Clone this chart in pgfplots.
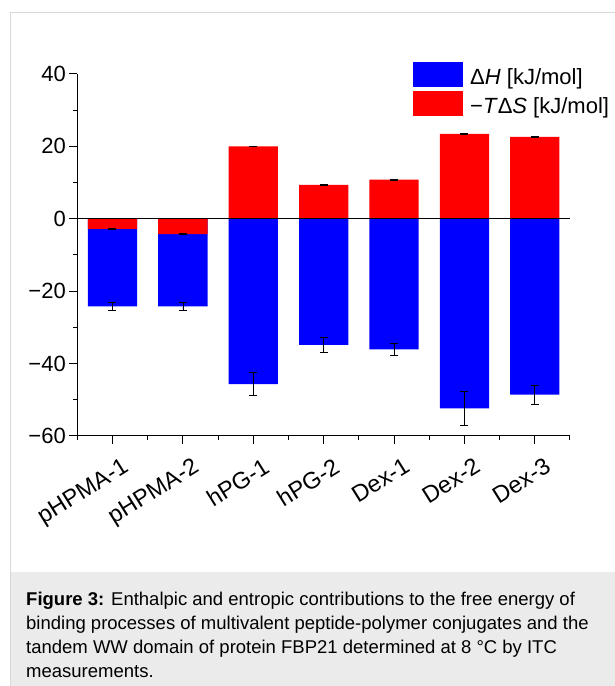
\documentclass[border=0pt]{standalone}
\usepackage{fontspec}
\setmainfont{Liberation Sans}
\usepackage{pgfplots}
\pgfplotsset{compat=1.18}
\definecolor{barblue}{RGB}{0,0,255}
\definecolor{barred}{RGB}{255,0,0}
\definecolor{framegray}{RGB}{216,216,216}
\definecolor{capgray}{RGB}{235,235,235}

\begin{document}
\begin{tikzpicture}[x=1pt,y=1pt]
\path[use as bounding box] (0,0) rectangle (615,686);
\fill[white] (0,0) rectangle (615,686);
\fill[capgray] (10.8,0) rectangle (615,114.3);
\draw[framegray, line width=1.2pt] (10.3,0) -- (10.3,673.7) -- (615,673.7);
\begin{scope}[every node/.style={anchor=base west, inner sep=0pt, font=\fontsize{18.5}{22}\selectfont}]
\node at (26,80.5) {\textbf{Figure 3:} Enthalpic and entropic contributions to the free energy of};
\node at (26,56.5) {binding processes of multivalent peptide-polymer conjugates and the};
\node at (26,32.5) {tandem WW domain of protein FBP21 determined at 8 °C by ITC};
\node at (26,8.5) {measurements.};
\end{scope}
\begin{axis}[
  at={(77.3pt,250pt)}, anchor=south west,
  scale only axis, width=492.7pt, height=362pt,
  xmin=-0.5, xmax=6.5, ymin=-60, ymax=40,
  axis lines*=left,
  axis line style={black, line width=1pt},
  ybar, bar width=0.7, bar shift=0pt,
  xtick={0,1,2,3,4,5,6},
  xticklabels={pHPMA-1,pHPMA-2,hPG-1,hPG-2,Dex-1,Dex-2,Dex-3},
  minor xtick={-0.5,0.5,1.5,2.5,3.5,4.5,5.5,6.5},
  ytick={-60,-40,-20,0,20,40},
  yticklabels={−60,−40,−20,0,20,40},
  minor ytick={-50,-30,-10,10,30},
  tick align=outside,
  major tick length=8pt, minor tick length=4.5pt,
  tick style={black, line width=1pt},
  yticklabel style={font=\fontsize{22}{26}\selectfont},
  xticklabel style={font=\fontsize{23.5}{27}\selectfont, rotate=32, anchor=north east, xshift=4pt, yshift=-12pt},
  legend style={at={(0.6813,1.034)}, anchor=north west, draw=none, fill=none,
    inner sep=0pt, row sep=3pt, font=\fontsize{22}{26}\selectfont,
    /tikz/every odd column/.append style={column sep=5pt}},
  legend cell align=left,
]
\addplot[fill=barblue, draw=none,
  legend image code/.code={\fill[barblue] (0pt,-9.5pt) rectangle (50pt,15.5pt);},
  error bars/.cd, y dir=both, y explicit,
  error bar style={draw=black, line width=0.7pt},
  error mark options={draw=black, rotate=90, mark size=4pt, line width=0.7pt}]
coordinates {
(0,-24.2) +- (0,1.05)
(1,-24.2) +- (0,1.15)
(2,-45.7) +- (0,3.15)
(3,-34.85) +- (0,2.1)
(4,-36.05) +- (0,1.75)
(5,-52.4) +- (0,4.6)
(6,-48.6) +- (0,2.55)
};
\addlegendentry{Δ\textit{H} [kJ/mol]}
\addplot[fill=barred, draw=none,
  legend image code/.code={\fill[barred] (0pt,-9.5pt) rectangle (50pt,15.5pt);},
  error bars/.cd, y dir=both, y explicit,
  error bar style={draw=black, line width=0.7pt},
  error mark options={draw=black, rotate=90, mark size=4pt, line width=0.7pt}]
coordinates {
(0,-2.8) +- (0,0.12)
(1,-4.2) +- (0,0.12)
(2,20.0) +- (0,0.12)
(3,9.4) +- (0,0.12)
(4,10.8) +- (0,0.12)
(5,23.45) +- (0,0.12)
(6,22.6) +- (0,0.12)
};
\addlegendentry{−\textit{T}Δ\textit{S} [kJ/mol]}
\addplot[sharp plot, black, line width=1pt, forget plot] coordinates {(-0.5,0) (6.5,0)};
\end{axis}
\end{tikzpicture}
\end{document}
